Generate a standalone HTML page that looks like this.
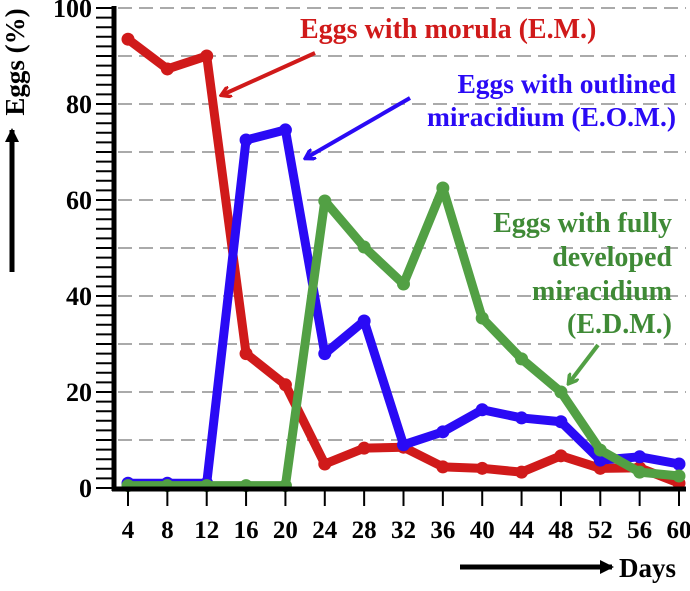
<!DOCTYPE html>
<html><head><meta charset="utf-8"><style>
body{margin:0;background:#fff}
svg text{font-family:"Liberation Serif",serif;font-weight:bold}
</style></head><body>
<svg id="chart" width="690" height="586" viewBox="0 0 690 586" xmlns="http://www.w3.org/2000/svg">
<defs>
<marker id="ahR" markerWidth="12" markerHeight="12" refX="9" refY="6" orient="auto" markerUnits="userSpaceOnUse"><path d="M0,0 L10,6 L0,12" fill="none" stroke="#d01a1a" stroke-width="3.5"/></marker>
<marker id="ahB" markerWidth="12" markerHeight="12" refX="9" refY="6" orient="auto" markerUnits="userSpaceOnUse"><path d="M0,0 L10,6 L0,12" fill="none" stroke="#2a0af5" stroke-width="3.5"/></marker>
<marker id="ahG" markerWidth="12" markerHeight="12" refX="9" refY="6" orient="auto" markerUnits="userSpaceOnUse"><path d="M0,0 L10,6 L0,12" fill="none" stroke="#52a044" stroke-width="3.5"/></marker>
<marker id="ahK" markerWidth="14" markerHeight="14" refX="12" refY="7" orient="auto" markerUnits="userSpaceOnUse"><path d="M0,0 L14,7 L0,14 Z" fill="#000"/></marker>
</defs>
<g id="grid"></g>
<g id="series"></g>
<g id="axes"></g>
<text x="18" y="62" font-size="27" text-anchor="middle" transform="rotate(-90 18 62)" dominant-baseline="middle">Eggs (%)</text>
<line x1="12" y1="272" x2="12" y2="130" stroke="#000" stroke-width="5" marker-end="url(#ahK)"/>
<line x1="460" y1="567" x2="612" y2="567" stroke="#000" stroke-width="5" marker-end="url(#ahK)"/>
<text x="619" y="577" font-size="27">Days</text>
<text x="300" y="38" font-size="28" fill="#d01a1a">Eggs with morula (E.M.)</text>
<line x1="315" y1="53" x2="222" y2="95" stroke="#d01a1a" stroke-width="4" marker-end="url(#ahR)"/>
<text font-size="27.5" fill="#2a0af5" text-anchor="end"><tspan x="676" y="93">Eggs with outlined</tspan><tspan x="676" y="126">miracidium (E.O.M.)</tspan></text>
<line x1="410" y1="98" x2="306" y2="158" stroke="#2a0af5" stroke-width="4" marker-end="url(#ahB)"/>
<text font-size="28" fill="#3f8a36" text-anchor="end"><tspan x="672" y="232">Eggs with fully</tspan><tspan x="672" y="266">developed</tspan><tspan x="672" y="300">miracidium</tspan><tspan x="672" y="333">(E.D.M.)</tspan></text>
<line x1="598" y1="345" x2="569" y2="383" stroke="#52a044" stroke-width="4" marker-end="url(#ahG)"/>
</svg>
<script>
const days = [4,8,12,16,20,24,28,32,36,40,44,48,52,56,60];
const yTicks = [0,20,40,60,80,100];
const emValues = [93.5,87.3,90,28,21.5,5,8.3,8.5,4.4,4.1,3.3,6.7,4.1,4.2,1];
const eomValues = [1,1,1,72.5,74.6,28,34.8,9,11.7,16.3,14.6,13.8,5.8,6.5,5];
const edmValues = [0.5,0.5,0.5,0.5,0.5,59.8,50.2,42.5,62.5,35.4,26.9,20,7.9,3.3,2.5];

const NS='http://www.w3.org/2000/svg';
const x0=128,x1=679,yTop=8,yBot=488;
const xs=d=>x0+(d-days[0])*(x1-x0)/(days[days.length-1]-days[0]);
const ys=v=>yBot-v*(yBot-yTop)/100;
function mk(tag,attrs,parent){const e=document.createElementNS(NS,tag);for(const k in attrs)e.setAttribute(k,attrs[k]);parent.appendChild(e);return e;}
const grid=document.getElementById('grid'),axes=document.getElementById('axes'),series=document.getElementById('series');
for(let v=10;v<=100;v+=10){
  const l=mk('line',{x1:118,x2:686,y1:ys(v),y2:ys(v),stroke:'#aaa','stroke-width':2,'stroke-dasharray':'14 7'},grid);
  
  
}
for(let v=0;v<=100;v+=2){
  const t=mk('line',{x1:96,x2:114,y1:ys(v),y2:ys(v),stroke:'#000','stroke-width':2},axes);
  
  
}
yTicks.forEach(v=>{
  const t=mk('text',{x:92,y:ys(v)+9,'font-size':26,'text-anchor':'end'},axes);t.textContent=v;
  
  
});
days.forEach(d=>{
  const t=mk('line',{x1:xs(d),x2:xs(d),y1:489,y2:506,stroke:'#000','stroke-width':2},axes);
  
  
  const l=mk('text',{x:xs(d),y:538,'font-size':25,'text-anchor':'middle'},axes);l.textContent=d;
  
  
});
const ya=mk('line',{x1:114,x2:114,y1:6,y2:491,stroke:'#000','stroke-width':5},axes);


const xa=mk('line',{x1:112,x2:686,y1:489,y2:489,stroke:'#000','stroke-width':5},axes);


function drawSeries(vals,color,name){
  const g=mk('g',{},series);
  
  
  const p=mk('polyline',{points:vals.map((v,i)=>xs(days[i])+','+ys(v)).join(' '),fill:'none',stroke:color,'stroke-width':9,'stroke-linejoin':'round'},g);
  
  
  vals.forEach((v,i)=>{
    const c=mk('circle',{cx:xs(days[i]),cy:ys(v),r:6.5,fill:color},g);
    
    
  });
}
drawSeries(emValues,'#d01a1a','series-em');
drawSeries(eomValues,'#2a0af5','series-eom');
drawSeries(edmValues,'#52a044','series-edm');
</script>
</body></html>
